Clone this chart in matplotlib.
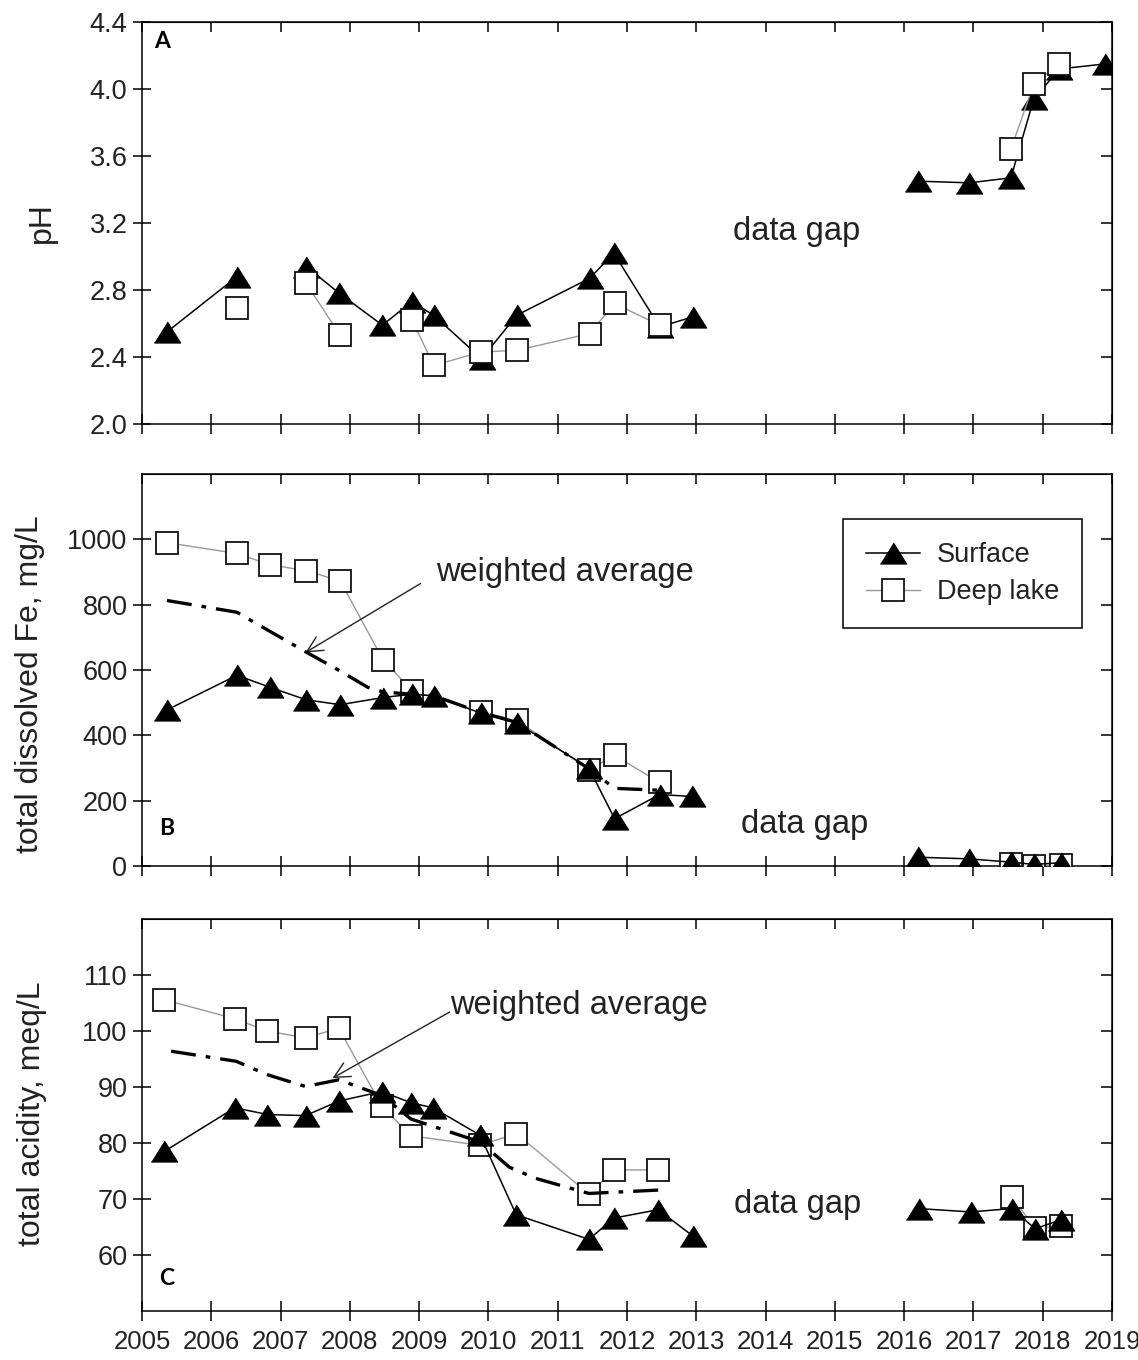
import numpy as np
import matplotlib
matplotlib.use("Agg")
import matplotlib.pyplot as plt

plt.rcParams['font.family'] = ['Liberation Sans', 'DejaVu Sans']

nan = np.nan

# --- panel A: pH ---
yrA_s = [2005.36, 2006.37, nan, 2007.37, 2007.85, 2008.47, 2008.89, 2009.21, 2009.90, 2010.41,
         2011.46, 2011.81, 2012.47, 2012.95, nan, 2016.20, 2016.94, 2017.54, 2017.87, 2018.24, 2018.90]
phA_s = [2.55, 2.88, nan, 2.94, 2.78, 2.59, 2.73, 2.65, 2.39, 2.65,
         2.87, 3.02, 2.58, 2.64, nan, 3.45, 3.44, 3.47, 3.94, 4.12, 4.15]
yrA_d = [2006.37, nan, 2007.37, 2007.86, nan, 2008.90, 2009.21, 2009.89, 2010.41, 2011.46,
         2011.82, 2012.47, nan, 2017.54, 2017.87, 2018.24]
phA_d = [2.69, nan, 2.84, 2.53, nan, 2.62, 2.35, 2.43, 2.44, 2.54,
         2.72, 2.59, nan, 3.64, 4.03, 4.15]

# --- panel B: total dissolved Fe ---
yrB_s = [2005.36, 2006.37, 2006.85, 2007.37, 2007.86, 2008.48, 2008.89, 2009.22, 2009.89, 2010.41,
         2011.45, 2011.82, 2012.47, 2012.94, nan, 2016.20, 2016.94, 2017.54, 2017.87, 2018.26]
feB_s = [478, 584, 547, 509, 494, 516, 526, 521, 468, 438,
         300, 145, 219, 213, nan, 27, 22, 12, 5, 10]
yrB_d = [2005.36, 2006.37, 2006.84, 2007.37, 2007.86, 2008.48, 2008.90, 2009.89, 2010.41,
         2011.45, 2011.82, 2012.47, nan, 2017.54, 2017.87, 2018.26]
feB_d = [990, 957, 923, 904, 873, 631, 536, 472, 446,
         295, 339, 256, nan, 5, 1, 4]
yrB_w = [2005.36, 2006.37, 2006.85, 2007.37, 2007.86, 2008.26, 2008.48, 2008.90, 2009.22,
         2009.89, 2010.41, 2011.45, 2011.82, 2012.47]
feB_w = [813, 777, 718, 655, 597, 547, 533, 526, 521,
         470, 440, 298, 238, 232]

# --- panel C: total acidity ---
yrC_s = [2005.32, 2006.34, 2006.81, 2007.36, 2007.84, 2008.46, 2008.88, 2009.20, 2009.88, 2010.40,
         2011.45, 2011.81, 2012.45, 2012.95, nan, 2016.21, 2016.96, 2017.55, 2017.89, 2018.26]
acC_s = [78.5, 86.3, 85.1, 84.9, 87.5, 89.2, 87.2, 86.3, 81.4, 67.2,
         62.8, 66.6, 68.1, 63.4, nan, 68.3, 67.7, 68.3, 64.7, 66.3]
yrC_d = [2005.32, 2006.34, 2006.81, 2007.36, 2007.84, 2008.46, 2008.88, 2009.88, 2010.40,
         2011.45, 2011.81, 2012.45, nan, 2017.55, 2017.89, 2018.26]
acC_d = [105.6, 102.2, 100.0, 98.8, 100.5, 86.6, 81.3, 79.6, 81.7,
         70.9, 75.2, 75.2, nan, 70.4, 64.8, 65.1]
yrC_w = [2005.42, 2006.36, 2006.81, 2007.36, 2007.84, 2008.46, 2008.88, 2009.88, 2010.30,
         2010.68, 2011.45, 2012.45]
acC_w = [96.4, 94.6, 92.2, 90.1, 91.3, 88.5, 84.3, 80.2, 75.7,
         73.7, 71.0, 71.6]

years = list(range(2005, 2020))

tri = [(-1, -0.8), (1, -0.8), (0, 0.8)]
txtc = '#222222'

fig = plt.figure(figsize=(11.38, 13.6), dpi=100)
left, width = 0.1248, 0.8524
axA = fig.add_axes([left, 0.6882, width, 0.2956])
axB = fig.add_axes([left, 0.3632, width, 0.2882])
axC = fig.add_axes([left, 0.0360, width, 0.2882])


def surface(ax, x, y, z):
    return ax.plot(x, y, color='black', lw=1.1, marker=tri, ms=19, mfc='black',
                   mec='black', mew=0.8, zorder=z, label='Surface')[0]


def deep(ax, x, y, z):
    return ax.plot(x, y, color='#999999', lw=1.0, marker='s', ms=15.5, mfc='white',
                   mec='#111111', mew=1.3, zorder=z, label='Deep lake')[0]


def wavg(ax, x, y):
    ax.plot(x, y, color='black', lw=2.4, ls=(0, (7.5, 3, 1.4, 3)), zorder=5)


def style(ax, ylim, yticks, fmt, show_x):
    ax.set_xlim(2005, 2019)
    ax.set_ylim(*ylim)
    ax.set_xticks(years)
    ax.set_yticks(yticks)
    ax.set_yticklabels([fmt.format(v) for v in yticks])
    if show_x:
        ax.set_xticklabels([str(y) for y in years])
    else:
        ax.set_xticklabels([])
    ax.tick_params(axis='x', direction='inout', length=14, width=1.1, labelsize=18.5,
                   labelcolor=txtc, pad=7)
    ax.tick_params(axis='y', direction='inout', length=13, width=1.1, labelsize=19.5,
                   labelcolor=txtc, pad=4)
    for s in ax.spines.values():
        s.set_linewidth(1.1)
    top = ax.secondary_xaxis('top')
    top.set_xticks(years)
    top.set_xticklabels([])
    top.tick_params(direction='in', length=7.5, width=1.1)
    right = ax.secondary_yaxis('right')
    right.set_yticks(yticks)
    right.set_yticklabels([])
    right.tick_params(direction='in', length=8, width=1.1)


# panel A
surface(axA, yrA_s, phA_s, 3)
deep(axA, yrA_d, phA_d, 4)
style(axA, (2.0, 4.4), [2.0, 2.4, 2.8, 3.2, 3.6, 4.0, 4.4], '{:.1f}', False)
axA.set_ylabel('pH', fontsize=23, color=txtc)
axA.yaxis.set_label_coords(-0.088, 0.502)
axA.text(2013.53, 3.15, 'data gap', fontsize=23.5, color=txtc, va='center')
axA.text(0.012, 0.978, 'A', transform=axA.transAxes, fontsize=16.5, fontweight='bold',
         family='Lato', va='top')

# panel B
hs = surface(axB, yrB_s, feB_s, 4)
hd = deep(axB, yrB_d, feB_d, 3)
wavg(axB, yrB_w, feB_w)
style(axB, (0, 1200), [0, 200, 400, 600, 800, 1000], '{:d}', False)
axB.set_ylabel('total dissolved Fe, mg/L', fontsize=23, color=txtc)
axB.yaxis.set_label_coords(-0.100, 0.464)
axB.text(2013.65, 126, 'data gap', fontsize=23.5, color=txtc, va='center')
axB.text(2009.24, 898, 'weighted average', fontsize=23.5, color=txtc, va='center')
axB.annotate('', xy=(2007.36, 654), xytext=(2009.02, 865),
             arrowprops=dict(arrowstyle='->', lw=1.0, color='#222222', mutation_scale=28,
                             shrinkA=0, shrinkB=0))
axB.text(0.0175, 0.07, 'B', transform=axB.transAxes, fontsize=16.5, fontweight='bold',
         family='Lato', va='bottom')
leg = axB.legend([hs, hd], ['Surface', 'Deep lake'], loc='upper left',
                 bbox_to_anchor=(0.7227, 0.885), fontsize=19.5, numpoints=1,
                 handlelength=2.0, handletextpad=0.6, borderpad=0.85, labelspacing=0.4,
                 fancybox=False, framealpha=1, edgecolor='black', borderaxespad=0)
leg.get_frame().set_linewidth(1.1)
for t in leg.get_texts():
    t.set_color(txtc)

# panel C
surface(axC, yrC_s, acC_s, 4)
deep(axC, yrC_d, acC_d, 3)
wavg(axC, yrC_w, acC_w)
style(axC, (50, 120), [60, 70, 80, 90, 100, 110], '{:d}', True)
axC.set_ylabel('total acidity, meq/L', fontsize=23, color=txtc)
axC.yaxis.set_label_coords(-0.098, 0.503)
axC.text(2013.54, 69.1, 'data gap', fontsize=23.5, color=txtc, va='center')
axC.text(2009.45, 104.5, 'weighted average', fontsize=23.5, color=txtc, va='center')
axC.annotate('', xy=(2007.75, 91.6), xytext=(2009.44, 103.4),
             arrowprops=dict(arrowstyle='->', lw=1.0, color='#222222', mutation_scale=28,
                             shrinkA=0, shrinkB=0))
axC.text(0.018, 0.055, 'C', transform=axC.transAxes, fontsize=16.5, fontweight='bold',
         family='Lato', va='bottom')

fig.savefig('out.png', dpi=100)
